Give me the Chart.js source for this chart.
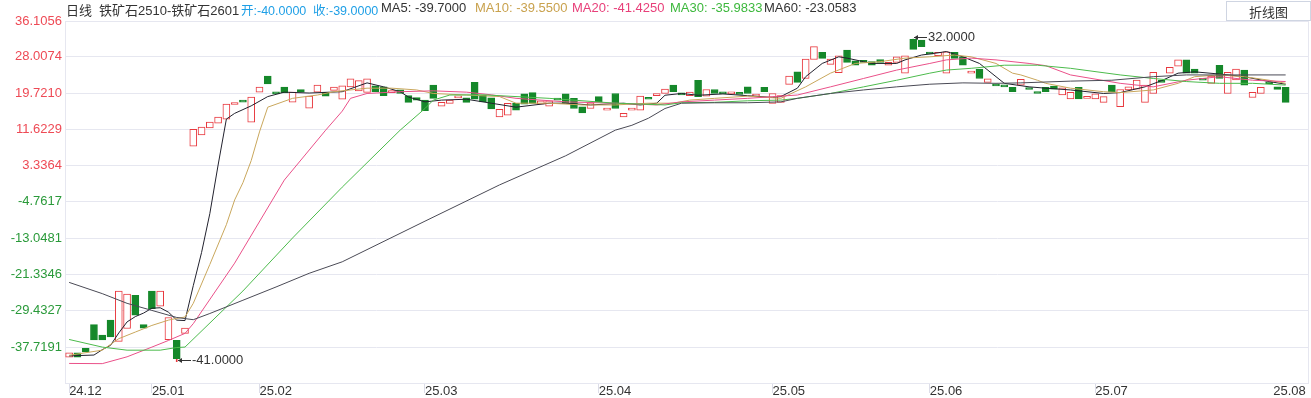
<!DOCTYPE html>
<html>
<head>
<meta charset="utf-8">
<title>铁矿石2510-铁矿石2601 日线</title>
<script src="https://cdn.jsdelivr.net/npm/chart.js@4.4.1/dist/chart.umd.min.js"></script>
<style>
  html, body { margin: 0; padding: 0; background: #fff; }
  #wrap { position: relative; width: 1311px; height: 398px; overflow: hidden; }
  #c { position: absolute; left: 0; top: 0; }
  .hd { position: absolute; top: 0; height: 22px; line-height: 22px; white-space: nowrap;
        font: 13px "Liberation Sans", Arial, "Noto Sans CJK SC", sans-serif; color: #333; }
  .oc { font-size: 12.5px; color: #1e9fe6; }
  #btn { position: absolute; left: 1226px; top: 1px; width: 85px; height: 20px; box-sizing: border-box;
         border: 1px solid #cfd5e2; text-align: center; line-height: 18px;
         font: 13px "Noto Sans CJK SC", sans-serif; color: #333; background: #fff; }
</style>
</head>
<body>
<div id="wrap">
  <canvas id="c" width="1311" height="398"></canvas>
  <span class="hd" style="left:66px">日线</span>
  <span class="hd" style="left:99px">铁矿石2510-铁矿石2601</span>
  <span class="hd oc" style="left:241px">开:-40.0000</span>
  <span class="hd oc" style="left:313px">收:-39.0000</span>
  <span class="hd" style="left:381px;color:#333">MA5: -39.7000</span>
  <span class="hd" style="left:475px;color:#c9a24e">MA10: -39.5500</span>
  <span class="hd" style="left:572px;color:#e8407a">MA20: -41.4250</span>
  <span class="hd" style="left:670px;color:#3db83d">MA30: -35.9833</span>
  <span class="hd" style="left:764px;color:#333">MA60: -23.0583</span>
  <div id="btn">折线图</div>
</div>
<script>
// ---- data (one entry per trading day) ----
const candleOpen = [
  -40, -39.0, -38.0, -32.6, -35.0, -31.6, -36.4, -33.5, -26.0, -32.6,
  -25.05, -28.45, -36.0, -36.15, -34.6, 7.8, 10.3, 11.9, 13.0, 13.9,
  17.2, 18.2, 13.2, 20.0, 23.65, 20.0, 21.15, 17.75, 20.6, 16.4,
  20.0, 20.0, 20.4, 18.4, 21.2, 20.3, 19.95, 21.45, 21.2, 19.9,
  20.5, 19.2, 18.8, 18.2, 21.6, 16.85, 17.45, 18.7, 18.7, 22.2,
  19.3, 18.7, 14.4, 14.8, 17.45, 19.6, 19.9, 17.3, 16.85, 18.6,
  19.6, 18.6, 16.7, 16.3, 19.0, 15.95, 19.7, 14.4, 15.95, 15.95,
  18.8, 19.2, 19.7, 21.6, 19.6, 19.2, 22.7, 19.1, 20.6, 20.0,
  19.6, 19.7, 21.2, 19.1, 21.1, 17.45, 17.7, 21.75, 24.6, 23.1,
  27.4, 29.0, 26.3, 24.4, 29.5, 27.1, 27.1, 26.9, 27.4, 26.1,
  26.75, 24.3, 31.95, 31.8, 29.0, 28.25, 24.3, 29.0, 28.0, 24.3,
  25.2, 22.2, 21.8, 21.4, 21.1, 21.6, 21.0, 20.1, 21.1, 21.4,
  19.35, 18.45, 21.1, 18.6, 18.45, 17.7, 21.6, 16.7, 20.5, 20.7,
  17.7, 19.7, 22.6, 24.3, 25.9, 27.3, 25.2, 22.8, 22.0, 26.1,
  19.7, 22.75, 25.0, 18.8, 19.7, 22.0, 21.2, 21.1
];
const candleClose = [
  -39, -40.0, -38.8, -36.1, -36.1, -35.4, -25.05, -25.7, -30.5, -33.4,
  -29.0, -25.05, -31.0, -40.3, -33.4, 11.6, 12.1, 13.2, 14.35, 17.3,
  17.3, 17.75, 18.9, 21.15, 21.84, 19.6, 19.8, 20.0, 20.0, 19.1,
  21.6, 19.1, 21.15, 21.45, 23.0, 22.6, 23.0, 20.1, 19.2, 20.0,
  19.7, 17.7, 18.2, 15.8, 18.6, 17.7, 18.2, 18.8, 17.7, 18.4,
  17.8, 16.2, 16.1, 17.45, 15.95, 17.3, 17.45, 18.05, 18.05, 18.2,
  17.45, 16.3, 15.3, 17.6, 17.8, 16.3, 16.3, 15.2, 16.3, 19.1,
  18.4, 19.7, 20.7, 20.1, 19.4, 20.0, 19.0, 20.6, 19.7, 19.6,
  20.0, 19.5, 19.7, 19.5, 20.1, 19.7, 19.2, 23.65, 22.2, 27.5,
  30.3, 27.65, 27.5, 28.2, 26.75, 26.1, 26.75, 26.1, 26.75, 26.75,
  28.0, 28.2, 29.7, 30.3, 28.6, 29.0, 29.15, 27.65, 26.1, 24.45,
  23.1, 23.0, 21.4, 21.2, 20.1, 22.9, 20.6, 19.7, 20.1, 20.7,
  21.0, 19.95, 18.45, 18.7, 19.6, 19.0, 20.1, 20.6, 21.2, 22.75,
  21.6, 24.5, 22.2, 25.6, 27.3, 24.3, 24.3, 22.7, 23.65, 23.1,
  24.5, 25.2, 21.6, 19.95, 21.1, 21.9, 20.6, 17.7
];
// marked extremes (lowest low, highest high)
const extremeIdx = [13, 102];
const extremeVal = [-41, 32];

const monthIdx = [0, 10, 23, 43, 64, 85, 104, 124, 147];
const monthLabels = ['24.12', '25.01', '25.02', '25.03', '25.04', '25.05', '25.06', '25.07', '25.08'];
const yTicks = [36.1056, 28.0074, 19.7210, 11.6229, 3.3364, -4.7617, -13.0481, -21.3346, -29.4327, -37.7191];

// moving averages, [day index, value]
const ma5 = [[0,-39.7],[3,-39.5],[4,-38.3],[5,-37.3],[6,-34.5],[7,-32],[8,-30.8],[9,-30],[10,-28.9],[11,-28.8],
  [12,-29.8],[13,-31.6],[14,-31.7],[15,-23.8],[16,-16.3],[17,-7.5],[18,3.5],[19,13.9],[20,15.2],[22,16.9],
  [24,19.0],[26,20.0],[29,19.8],[33,20.1],[36,22.1],[38,21.2],[40,20.1],[41,18.9],[43,17.8],[45,18.2],
  [48,18.4],[51,17.5],[54,16.6],[58,17.5],[60,17.5],[63,17.1],[67,17.5],[69,17.1],[71,17.5],[72,19.3],
  [74,19.7],[76,19.3],[79,19.6],[82,19.2],[85,18.8],[86,19.0],[88,20.9],[89,23.5],[91,26.5],[93,28.0],
  [94,27.7],[96,26.9],[97,26.5],[100,26.5],[101,27.3],[103,28.4],[105,28.9],[106,29.2],[108,28.0],[110,26.5],
  [112,23.5],[113,22.0],[116,21.2],[118,20.9],[121,20.5],[125,19.7],[127,19.9],[130,21.2],[132,22.6],[134,24.3],
  [136,24.6],[139,24.1],[142,23.5],[145,22.4],[147,21.8]];
const ma10 = [[0,-39.55],[4,-38.4],[6,-35.8],[8,-34.3],[10,-32.8],[12,-31.6],[13,-31.2],[14,-30.9],[15,-27.8],[17,-19.0],
  [19,-10.0],[20,-4.4],[21,-0.5],[22,4.5],[23,11.0],[24,16.6],[27,18.6],[30,19.35],[32,20.1],[36,20.9],
  [39,20.9],[42,20.5],[44,19.7],[48,19.35],[52,19.0],[54,17.5],[58,17.5],[62,17.1],[66,17.1],[70,17.5],
  [73,17.5],[75,18.2],[78,18.6],[82,19.1],[86,18.6],[89,21.2],[92,24.3],[95,26.5],[98,26.9],[101,27.7],
  [104,28.0],[107,28.4],[109,28.0],[112,26.5],[114,24.3],[115,23.9],[117,22.7],[118,22.0],[121,20.9],[125,20.1],
  [127,19.9],[131,20.5],[134,22.0],[136,23.5],[139,23.9],[142,23.5],[145,22.7],[147,22.0]];
const ma20 = [[0,-41.4],[4,-41.45],[7,-39.9],[10,-37.7],[12,-36.2],[14,-34.6],[15,-32.4],[20,-18.7],[26,0.1],[31,11.4],
  [33,15.7],[34,18.6],[36,19.7],[40,20.1],[44,20.3],[48,20.0],[51,19.4],[54,18.6],[60,17.8],[66,17.5],
  [71,17.1],[74,17.8],[78,18.2],[82,18.6],[86,19.1],[88,19.35],[92,21.2],[96,23.1],[100,25.0],[104,26.5],
  [106,27.3],[109,27.7],[112,27.3],[116,26.5],[118,26.0],[121,23.9],[127,22.0],[131,21.2],[135,22.7],[139,23.5],
  [143,22.7],[147,22.4]];
const ma30 = [[0,-35.98],[4,-37.7],[7,-38.4],[11,-38.4],[13,-37.8],[14,-37.7],[21,-25.0],[27,-13.0],[33,-1.5],[40,11.4],
  [43,16.3],[44,18.2],[46,19.35],[50,19.4],[58,18.6],[66,17.5],[72,17.1],[74,17.6],[78,17.7],[82,18.05],
  [86,18.2],[88,18.6],[92,19.7],[96,21.2],[100,22.7],[104,24.3],[106,25.0],[109,25.4],[113,26.1],[117,26.1],
  [121,25.4],[127,23.9],[131,23.1],[135,22.4],[139,22.0],[143,22.0],[147,21.6]];
const ma60 = [[0,-23.06],[4,-25.6],[7,-27.8],[10,-29.4],[13,-31.0],[15,-31.5],[17,-30.1],[21,-27.1],[25,-24.1],[29,-21.0],
  [33,-18.4],[43,-9.2],[52,-1.0],[60,5.6],[66,11.4],[68,12.5],[70,14.1],[72,16.3],[74,17.5],[78,17.6],
  [82,17.6],[86,17.8],[88,18.6],[92,19.7],[96,20.5],[100,21.2],[104,21.8],[108,22.1],[112,22.0],[115,22.1],
  [121,22.5],[126,22.7],[131,23.5],[135,23.9],[147,23.9]];

// ---- styling ----
const UP = '#e8393f', DOWN = '#15882a', GRID = '#e6e7f0';
const FONT = '"Liberation Sans", Arial, sans-serif';
Chart.defaults.font.family = FONT;

const candles = candleOpen.map((o, i) => ({ x: i, y: [o, candleClose[i]] }));
const wicks = extremeIdx.map((idx, k) => {
  const o = candleOpen[idx], c = candleClose[idx];
  const edge = extremeVal[k] < Math.min(o, c) ? Math.min(o, c) : Math.max(o, c);
  return { x: idx, y: [extremeVal[k], edge] };
});
const isUp = ctx => {
  const r = ctx.raw;
  return r && r.y[1] >= r.y[0];
};
const lineSet = (pts, color) => ({
  type: 'line', data: pts.map(([x, y]) => ({ x, y })), borderColor: color, borderWidth: 1,
  pointRadius: 0, tension: 0, fill: false, order: -1
});

const extremesLabel = {
  id: 'extremesLabel',
  afterDatasetsDraw(chart) {
    const { ctx, scales: { x, y } } = chart;
    ctx.save();
    ctx.font = '13px ' + FONT;
    ctx.fillStyle = '#333'; ctx.strokeStyle = '#333'; ctx.lineWidth = 1;
    ctx.textAlign = 'left'; ctx.textBaseline = 'middle';
    extremeIdx.forEach((idx, k) => {
      const px = Math.round(x.getPixelForValue(idx)) + 1;
      const py = Math.round(y.getPixelForValue(extremeVal[k])) - 1.5;
      ctx.beginPath(); ctx.moveTo(px, py); ctx.lineTo(px + 13, py); ctx.stroke();
      ctx.beginPath(); ctx.moveTo(px, py); ctx.lineTo(px + 4, py - 2.5); ctx.lineTo(px + 4, py + 2.5); ctx.closePath(); ctx.fill();
      ctx.fillText(extremeVal[k].toFixed(4), px + 14, py);
    });
    ctx.restore();
  }
};

new Chart(document.getElementById('c'), {
  type: 'bar',
  data: {
    datasets: [
      { data: wicks, backgroundColor: ctx => isUp(ctx) ? UP : DOWN, barThickness: 1, grouped: false, order: 2 },
      {
        data: candles, grouped: false, barThickness: 7, minBarLength: 2, borderSkipped: false, borderWidth: 1,
        backgroundColor: ctx => isUp(ctx) ? '#ffffff' : DOWN,
        borderColor: ctx => isUp(ctx) ? UP : DOWN, order: 1
      },
      lineSet(ma60, '#4a4a55'),
      lineSet(ma30, '#4cbb4c'),
      lineSet(ma20, '#ea5089'),
      lineSet(ma10, '#c9a75c'),
      lineSet(ma5, '#22222e')
    ]
  },
  options: {
    responsive: false, animation: false, events: [],
    layout: { padding: { top: 21, right: 3, bottom: 0, left: 0 } },
    plugins: { legend: { display: false }, tooltip: { enabled: false } },
    scales: {
      x: {
        type: 'linear', min: -0.5, max: 149.7, offset: false,
        afterBuildTicks: s => { s.ticks = monthIdx.map(v => ({ value: Math.min(Math.max(v, s.min), s.max - 4.2) })); },
        afterFit: s => { s.height = 15; },
        ticks: {
          autoSkip: false, maxRotation: 0, align: 'start', padding: -9, color: '#333',
          font: { size: 13 }, callback: (v, i) => monthLabels[i]
        },
        grid: {
          offset: false, drawOnChartArea: false, drawTicks: true, tickLength: 10,
          color: ctx => ctx.index === monthIdx.length - 1 ? 'rgba(0,0,0,0)' : '#dcdde8'
        },
        border: { display: true, color: GRID }
      },
      y: {
        min: -45.83, max: 36.1056,
        afterBuildTicks: s => { s.ticks = yTicks.map(v => ({ value: v })); },
        afterFit: s => { s.width = 65; },
        ticks: {
          padding: 3, font: { size: 13 }, callback: v => v.toFixed(4),
          color: ctx => ctx.tick && ctx.tick.value >= 0 ? '#ee4a55' : '#2a9a3a'
        },
        grid: { color: GRID, drawTicks: false },
        border: { display: true, color: GRID }
      },
      y2: {
        position: 'right', min: -45.83, max: 36.1056,
        afterFit: s => { s.width = 0; },
        ticks: { display: false },
        grid: { drawOnChartArea: false, drawTicks: false },
        border: { display: true, color: GRID }
      }
    }
  },
  plugins: [extremesLabel]
});
</script>
</body>
</html>
